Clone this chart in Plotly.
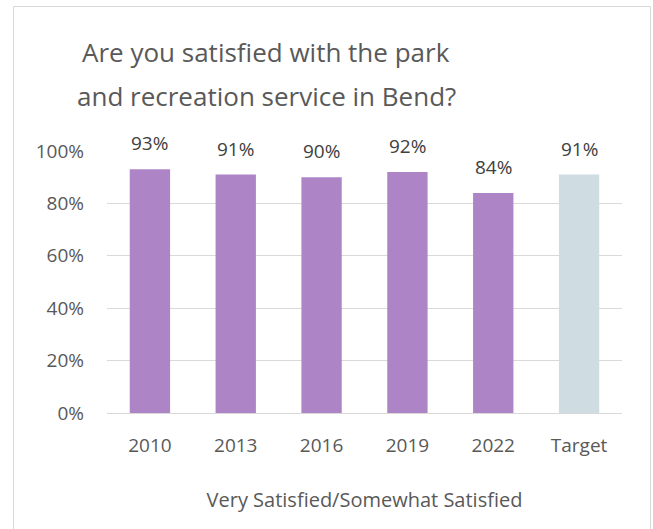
import plotly.graph_objects as go

categories = ["2010", "2013", "2016", "2019", "2022", "Target"]
values = [0.93, 0.91, 0.90, 0.92, 0.84, 0.91]
labels = ["93%", "91%", "90%", "92%", "84%", "91%"]
bar_colors = ["#AD84C6", "#AD84C6", "#AD84C6", "#AD84C6", "#AD84C6", "#CFDDE3"]
y_ticks = [0, 0.2, 0.4, 0.6, 0.8, 1.0]
y_tick_text = ["0%", "20%", "40%", "60%", "80%", "100%"]
title_lines = ["Are you satisfied with the park", "and recreation service in Bend?"]

W, H = 653, 529
L, R, T, B = 107, 31, 151, 116
pw, ph = W - L - R, H - T - B

def px_x(x):
    return (x - L) / pw

def px_y(y):
    return (H - B - y) / ph

font_family = "Open Sans, Noto Sans, sans-serif"

fig = go.Figure()
fig.add_trace(go.Bar(
    x=categories, y=values, marker=dict(color=bar_colors, line=dict(width=0)),
    hoverinfo="skip",
))

# data labels: positioned by category index on the category axis
for i, (v, t) in enumerate(zip(values, labels)):
    fig.add_annotation(x=i, y=v, xref="x", yref="y", text=t, showarrow=False,
                       yanchor="bottom", yshift=11,
                       font=dict(size=19, color="#404040", family=font_family))

# title (two lines with Excel-like line spacing)
for line, yc in zip(title_lines, [52, 96]):
    fig.add_annotation(x=px_x(266), y=px_y(yc), xref="paper", yref="paper",
                       text=line, showarrow=False, xanchor="center", yanchor="middle",
                       font=dict(size=26, color="#595959", family=font_family))

# chart border
fig.add_shape(type="rect", xref="paper", yref="paper",
              x0=px_x(13.5), x1=px_x(650.5),
              y0=px_y(534), y1=px_y(6.5),
              line=dict(color="#D9D9D9", width=1))

fig.update_layout(
    width=W, height=H,
    margin=dict(l=L, r=R, t=T, b=B),
    paper_bgcolor="white", plot_bgcolor="white",
    showlegend=False,
    bargap=0.53,
    font=dict(family=font_family, color="#595959", size=19),
    xaxis=dict(
        type="category", range=[-0.5, len(categories) - 0.5], autorange=False,
        showgrid=False, showline=True, linecolor="#D9D9D9", linewidth=1,
        ticks="", ticklabelstandoff=15,
        tickfont=dict(size=19, color="#595959"),
        title=dict(text="Very Satisfied/Somewhat Satisfied", standoff=36,
                   font=dict(size=20, color="#595959")),
    ),
    yaxis=dict(
        range=[0, 1], tickvals=y_ticks, ticktext=y_tick_text,
        showgrid=True, gridcolor="#D9D9D9", gridwidth=1,
        zeroline=False, showline=False, ticks="", ticklabelstandoff=22,
        tickfont=dict(size=19, color="#595959"),
    ),
)

fig.write_html("out.html", config={"displayModeBar": False},
               post_script="document.body.style.margin='0';")
